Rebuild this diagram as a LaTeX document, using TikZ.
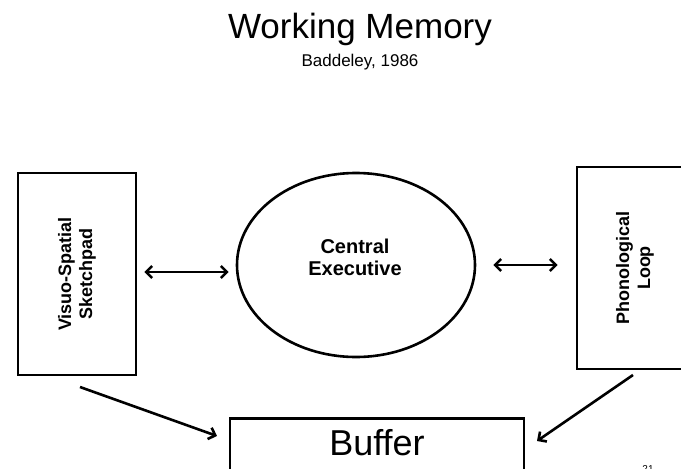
\documentclass[tikz,border=0pt]{standalone}
\usepackage{fontspec}
\setmainfont{Liberation Sans}
\usetikzlibrary{shapes.geometric,arrows.meta}

\tikzset{
  box/.style={draw, line width=2.6pt, inner sep=0pt, align=center, font=\bfseries\fontsize{18}{21}\selectfont},
  link/.style={line width=2.6pt, -{Straight Barb[length=6pt,width=12pt]}},
  dbl/.style={line width=2.6pt, {Straight Barb[length=6pt,width=12pt]}-{Straight Barb[length=6pt,width=12pt]}}
}

\begin{document}
\begin{tikzpicture}[x=1pt, y=-1pt]
\useasboundingbox (0,0) rectangle (681,469);

% Title
\node[font=\fontsize{35}{40}\selectfont, anchor=base] (title) at (360,38) {Working Memory};
\node[font=\fontsize{17}{20}\selectfont, anchor=base] (ref) at (360,66) {Baddeley, 1986};

% Visuo-Spatial Sketchpad
\node[box, rotate=90, minimum width=202pt, minimum height=118pt] (vsp) at (77,274) {Visuo-Spatial\\Sketchpad};

% Central Executive
\node[box, ellipse, minimum width=238pt, minimum height=184pt] (ce) at (356,265) {};
\node[font=\bfseries\fontsize{20}{22}\selectfont, align=center] (celabel) at (355,257) {Central\\Executive};

% Phonological Loop
\node[box, rotate=90, minimum width=202pt, minimum height=116pt] (pl) at (635,268) {Phonological\\Loop};

% Buffer
\node[box, minimum width=294pt, minimum height=120pt, anchor=north, font=\fontsize{36}{40}\selectfont, text depth=72pt] (buf) at (377,417) {Buffer};

% links
\draw[dbl] ([xshift=7pt,yshift=2pt]vsp.south) coordinate (a1) -- ([xshift=-7pt]a1 -| ce.west);
\draw[dbl] ([xshift=17pt]ce.east) -- ([xshift=-18pt]ce.east -| pl.north);

\coordinate (vspout) at (80,387);
\coordinate (bufin) at (217,436);
\draw[link] (vspout) -- (bufin);

\coordinate (plout) at (633,375);
\coordinate (bufin2) at (537,441);
\draw[link] (plout) -- (bufin2);

% page number
\node[font=\fontsize{10}{12}\selectfont, anchor=north] (pg) at (648,462) {21};
\end{tikzpicture}
\end{document}
